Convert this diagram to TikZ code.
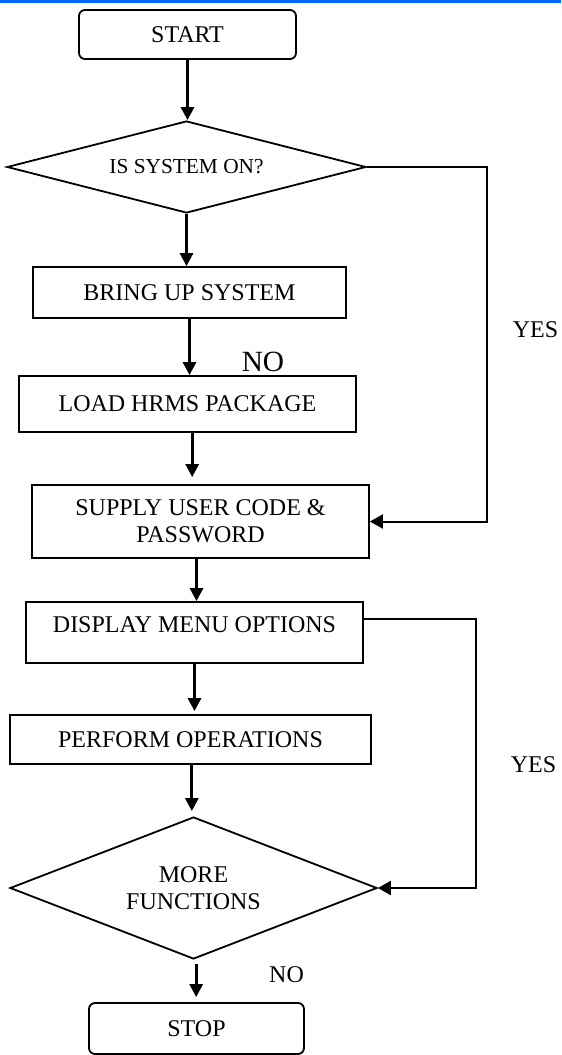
\documentclass[tikz,border=0pt]{standalone}
\usepackage{fontspec}
\setmainfont{Liberation Serif}
\usetikzlibrary{shapes.geometric,arrows.meta}
\definecolor{barblue}{RGB}{0,102,255}
\begin{document}
\begin{tikzpicture}[x=0.75pt,y=-0.75pt,
  txt/.style={font=\fontsize{18pt}{20.25pt}\selectfont},
  box/.style={txt,draw,line width=1.35pt,inner sep=0pt,align=center},
  term/.style={box,rounded corners=4.5pt},
  decision/.style={box,diamond},
  arr/.style={line width=2.1pt,-{Triangle[length=9.75pt,width=9.75pt]}},
  looparr/.style={line width=1.5pt,-{Triangle[length=9.75pt,width=10.5pt]}},
  lbl/.style={txt,inner sep=0pt}]
\useasboundingbox (0,0) rectangle (561,1055);
\fill[barblue] (0,0) rectangle (561,3.5);

\node[term,minimum width=162.75pt,minimum height=36.75pt] (start) at (187.5,34.5) {START};
\node[decision,shape aspect=3.9,minimum width=269.25pt,minimum height=69pt,font=\fontsize{16pt}{18pt}\selectfont] (d1) at (186.5,167) {IS SYSTEM ON?};
\node[box,minimum width=234.75pt,minimum height=38.25pt] (bring) at (189.5,292.5) {BRING UP SYSTEM};
\node[box,minimum width=252.75pt,minimum height=42pt] (load) at (187.5,404) {LOAD HRMS PACKAGE};
\node[box,minimum width=252.75pt,minimum height=54.75pt] (supply) at (200.5,521.5) {SUPPLY USER CODE \&\\PASSWORD};
\node[box,minimum width=252.75pt,minimum height=45.75pt,text depth=11.25pt] (disp) at (194.5,632.5) {DISPLAY MENU OPTIONS};
\node[box,minimum width=270.75pt,minimum height=36.75pt] (perf) at (190.5,739.5) {PERFORM OPERATIONS};
\node[decision,shape aspect=2.58,minimum width=275.25pt,minimum height=106.5pt] (d2) at (193.5,888) {MORE\\FUNCTIONS};
\node[term,minimum width=161.25pt,minimum height=38.25pt] (stop) at (196.5,1028.5) {STOP};

\node[lbl,font=\fontsize{22pt}{24pt}\selectfont] (no1) at (263,362) {NO};
\node[lbl] (yes1) at (535.5,330) {YES};
\node[lbl] (yes2) at (533.5,765) {YES};
\node[lbl] (no2) at (286.5,975) {NO};

\draw[arr] (start.south) -- (start.south |- d1.north);
\draw[arr] (d1.south) -- (d1.south |- bring.north);
\draw[arr] (bring.south) -- (bring.south |- load.north);
\draw[arr,shorten >=5.25pt] ([xshift=3.5pt]load.south) -- ([xshift=3.5pt]load.south |- supply.north);
\draw[arr] ([xshift=-3pt]supply.south) -- ([xshift=-3pt]supply.south |- disp.north);
\draw[arr,shorten >=2.25pt] (disp.south) -- (disp.south |- perf.north);
\draw[arr,shorten >=3.75pt] ([xshift=1pt]perf.south) -- ([xshift=1pt]perf.south |- d2.north);
\draw[arr,shorten <=3pt,shorten >=3.75pt] ([xshift=2pt]d2.south) -- ([xshift=2pt]d2.south |- stop.north);

\coordinate (c1) at (487,167);
\draw[looparr] (d1.east) -- (c1) |- (supply.east);
\coordinate (c2) at (476,619);
\draw[looparr] (c2 -| disp.east) -- (c2) |- (d2.east);
\end{tikzpicture}
\end{document}
